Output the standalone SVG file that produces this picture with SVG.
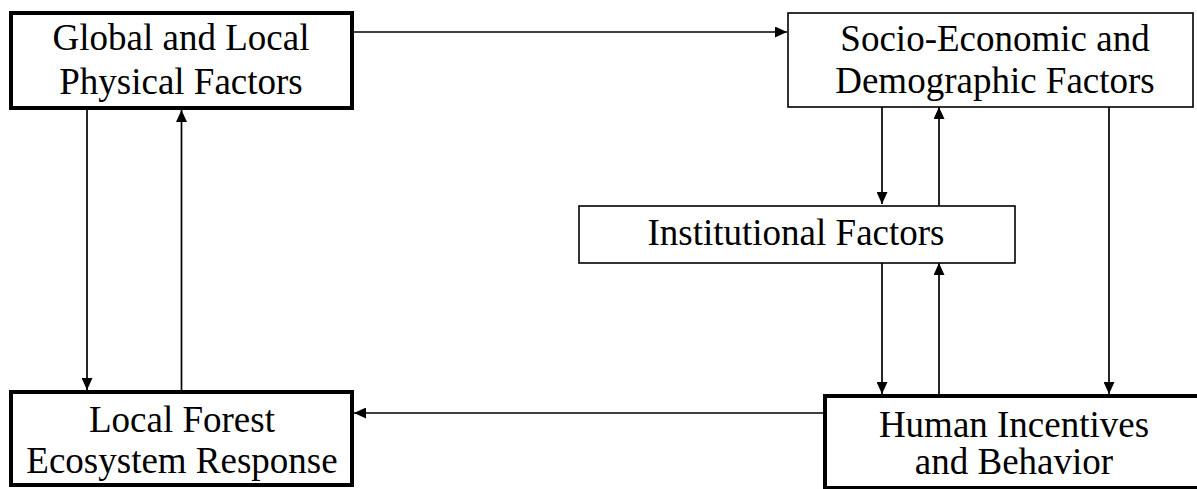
<svg xmlns="http://www.w3.org/2000/svg" width="1197" height="489" viewBox="0 0 1197 489">
<defs>
<style>
.thick{fill:#fff;stroke:#000;stroke-width:4}
.thin{fill:#fff;stroke:#000;stroke-width:1.6}
.lbl{font-family:"Liberation Serif","Times New Roman",serif;font-size:37px;fill:#000;text-anchor:middle}
.con{stroke:#000;stroke-width:1.7;fill:none;marker-end:url(#ah)}
</style>
<marker id="ah" viewBox="0 0 12 11" refX="12" refY="5.5" markerWidth="12" markerHeight="11" markerUnits="userSpaceOnUse" orient="auto">
<path d="M0,0 L12,5.5 L0,11 Z" fill="#000"/>
</marker>
</defs>
<rect width="1197" height="489" fill="#fff"/>
<g id="connectors">
<line class="con" x1="354" y1="32" x2="787" y2="32"/>
<line class="con" x1="87" y1="110" x2="87" y2="390"/>
<line class="con" x1="181.5" y1="390" x2="181.5" y2="110"/>
<line class="con" x1="882" y1="107" x2="882" y2="204"/>
<line class="con" x1="939" y1="206" x2="939" y2="107"/>
<line class="con" x1="1109" y1="107" x2="1109" y2="394"/>
<line class="con" x1="882" y1="263" x2="882" y2="394"/>
<line class="con" x1="939" y1="394" x2="939" y2="263"/>
<line class="con" x1="823" y1="413" x2="354" y2="413"/>
</g>
<g id="global">
<rect class="thick" x="11" y="13" width="341" height="95"/>
<text class="lbl" x="181" y="50">Global and Local</text>
<text class="lbl" x="181" y="94">Physical Factors</text>
</g>
<g id="socio">
<rect class="thin" x="788" y="13" width="405" height="94"/>
<text class="lbl" x="995" y="51">Socio-Economic and</text>
<text class="lbl" x="995" y="93">Demographic Factors</text>
</g>
<g id="institutional">
<rect class="thin" x="579" y="206" width="436" height="57"/>
<text class="lbl" x="796" y="245">Institutional Factors</text>
</g>
<g id="local">
<rect class="thick" x="11" y="392" width="341" height="93"/>
<text class="lbl" x="182" y="432">Local Forest</text>
<text class="lbl" x="182" y="473">Ecosystem Response</text>
</g>
<g id="human">
<rect class="thick" x="825" y="396" width="400" height="92"/>
<text class="lbl" x="1014" y="437">Human Incentives</text>
<text class="lbl" x="1014" y="474">and Behavior</text>
</g>
</svg>
